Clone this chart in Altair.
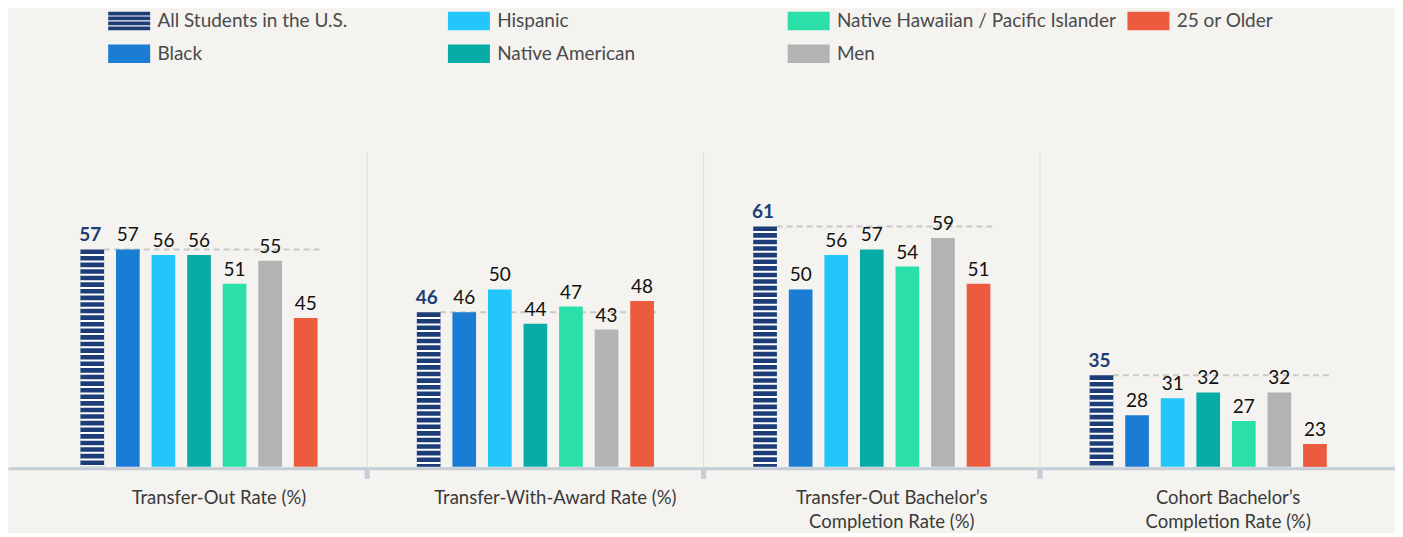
import altair as alt
import pandas as pd

groups = [
    "Transfer-Out Rate (%)",
    "Transfer-With-Award Rate (%)",
    "Transfer-Out Bachelor’s|Completion Rate (%)",
    "Cohort Bachelor’s|Completion Rate (%)",
]
series = [
    "All Students in the U.S.",
    "Black",
    "Hispanic",
    "Native American",
    "Native Hawaiian / Pacific Islander",
    "Men",
    "25 or Older",
]
colors = ["#1c3d78", "#1a7dd3", "#22c6fb", "#06aca5", "#2ae0a8", "#b3b3b3", "#ec5b3d"]

all_students = [57, 46, 61, 35]
black = [57, 46, 50, 28]
hispanic = [56, 50, 56, 31]
native_american = [56, 44, 57, 32]
nhpi = [51, 47, 54, 27]
men = [55, 43, 59, 32]
older = [45, 48, 51, 23]

values = [all_students, black, hispanic, native_american, nhpi, men, older]
rows = []
for s, vals in zip(series, values):
    for g, v in zip(groups, vals):
        rows.append({"group": g, "series": s, "value": v})
df = pd.DataFrame(rows)
df_all = df[df["series"] == series[0]]
df_rest = df[df["series"] != series[0]]
df_sep = pd.DataFrame({"group": groups[1:]})

# legend order: fills visually column by column in 2 rows
legend_order = [series[0], series[2], series[4], series[6], series[1], series[3], series[5]]
legend_colors = [colors[series.index(s)] for s in legend_order]

W, H = 1388, 315
FONT = "Lato"

xscale = alt.Scale(domain=groups, paddingInner=0, paddingOuter=0.0615, align=0.55)
xaxis = alt.Axis(
    title=None, ticks=False, domain=True, domainColor="#c5ced6", domainWidth=3,
    offset=1.5, labelAngle=0, labelFont=FONT, labelFontSize=18.5, labelColor="#3a3a3a",
    labelPadding=20, labelBaseline="top", labelLineHeight=24, labelOffset=20,
    labelExpr="split(datum.label, '|')", grid=False, labelLimit=400,
)
xoff = alt.XOffset(
    "series:N",
    scale=alt.Scale(domain=series, range=[49.7, 287.0], paddingInner=0.334, paddingOuter=0),
)
yscale = alt.Scale(domain=[19, 74], nice=False, zero=False)


def X(**kw):
    return alt.X("group:N", scale=xscale, axis=xaxis, **kw)


sep_above = alt.Chart(df_sep).mark_rule(color="#d9dcdf", strokeWidth=1).encode(
    x=X(bandPosition=0), y=alt.value(0), y2=alt.value(H)
)
sep_below = alt.Chart(df_sep).mark_rule(color="#c5ced6", strokeWidth=5).encode(
    x=X(bandPosition=0), y=alt.value(H + 1), y2=alt.value(H + 12)
)
dashed = alt.Chart(df_all).mark_rule(color="#c9c9c9", strokeWidth=2, strokeDash=[6, 4]).encode(
    x=X(bandPosition=0.217),
    x2=alt.X2("group", bandPosition=0.86),
    y=alt.Y("value:Q", scale=yscale, axis=None),
)

# legend swatches: 42 x 18.5 px rectangles drawn with a symbol of nominal size 18.5
R = 9.25
xr = 42 / R - 1
stripe_path = " ".join(
    f"M-1,{a}H{xr:.3f}V{b}H-1Z"
    for a, b in [(-1, -0.5975), (-0.4675, -0.065), (0.065, 0.4675), (0.5975, 1)]
)
solid_path = f"M-1,-1H{xr:.3f}V1H-1Z"

bars = alt.Chart(df).mark_bar().encode(
    x=X(),
    xOffset=xoff,
    y=alt.Y("value:Q", scale=yscale, axis=None),
    y2=alt.Y2(datum=19),
    color=alt.Color(
        "series:N",
        scale=alt.Scale(domain=legend_order, range=legend_colors),
        legend=alt.Legend(
            title=None, orient="none", legendX=100, legendY=-141,
            direction="horizontal", columns=4, gridAlign="all",
            columnPadding=11, rowPadding=13,
            symbolType={"expr": f"datum.value === '{series[0]}' ? '{stripe_path}' : '{solid_path}'"},
            symbolSize=(2 * R) ** 2, symbolStrokeWidth=0, symbolOpacity=1,
            labelFont=FONT, labelFontSize=19, labelColor="#4a4a4a",
            labelOffset=42 - 2 * R + 7, labelLimit=400, padding=0,
        ),
    ),
)

stripes = alt.Chart(df_all).mark_rule(
    color="#ffffff", strokeWidth=24, strokeDash=[2, 4.6], strokeDashOffset=2, strokeCap="butt"
).encode(
    x=X(), xOffset=xoff,
    y=alt.Y("value:Q", scale=yscale, axis=None),
    y2=alt.Y2(datum=19),
)

text_rest = alt.Chart(df_rest).mark_text(
    font=FONT, fontSize=19, color="#111111", baseline="bottom", dy=-4
).encode(
    x=X(), xOffset=xoff,
    y=alt.Y("value:Q", scale=yscale, axis=None),
    text="value:Q",
)
text_all = alt.Chart(df_all).mark_text(
    font=FONT, fontSize=19, fontWeight="bold", color="#1c3d78", baseline="bottom", dy=-4, dx=-2
).encode(
    x=X(), xOffset=xoff,
    y=alt.Y("value:Q", scale=yscale, axis=None),
    text="value:Q",
)

chart = (
    alt.layer(sep_above, sep_below, dashed, bars, stripes, text_rest, text_all)
    .properties(
        width=W, height=H,
        autosize=alt.AutoSizeParams(type="none"),
        padding={"left": 0, "top": 144, "right": 0, "bottom": 66},
    )
    .configure(background="#f4f3ef")
    .configure_view(stroke=None)
)

chart.save("out.html", embed_options={"renderer": "svg", "actions": False})
